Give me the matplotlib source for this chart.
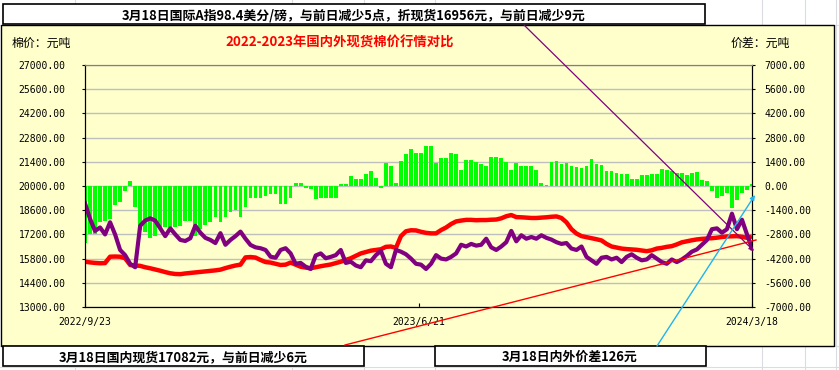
"""国内外现货棉价行情对比图"""

import numpy as np
import matplotlib.pyplot as plt
from matplotlib.patches import Rectangle

plt.rcParams['font.family'] = ['Noto Sans CJK SC', 'DejaVu Sans']

# 国内现货 (元/吨)
domestic = [
    15620, 15580, 15550, 15530, 15540, 15910, 15920, 15910, 15820, 15430,
    15400, 15380, 15300, 15240, 15170, 15100, 15020, 14950, 14910, 14900,
    14940, 14970, 15000, 15030, 15060, 15090, 15120, 15160, 15250, 15330,
    15400, 15450, 15870, 15890, 15860, 15720, 15600, 15570, 15500, 15430,
    15450, 15570, 15450, 15330, 15280, 15240, 15300, 15360, 15410, 15460,
    15540, 15620, 15720, 15820, 15960, 16100, 16180, 16260, 16300, 16340,
    16480, 16500, 16420, 17100, 17380, 17440, 17430, 17350, 17290, 17260,
    17260, 17450, 17600, 17800, 17950, 18000, 18040, 18040, 18020, 18030,
    18030, 18050, 18060, 18130, 18250, 18320, 18200, 18190, 18170, 18150,
    18150, 18170, 18190, 18220, 18240, 18150, 17900, 17500, 17250, 17100,
    17040, 16980, 16920, 16850, 16650, 16500, 16440, 16380, 16350, 16330,
    16310, 16270, 16230, 16280, 16380, 16420, 16480, 16520, 16620, 16740,
    16800, 16860, 16910, 16940, 16960, 16980, 17010, 17050, 17080, 17090,
    17100, 17060, 17000, 17082,
]

# 国际A指折现货 (元/吨)
international = [
    19000, 18100, 17400, 17600, 17200, 17900, 17200, 16300, 16000, 15500,
    15300, 17700, 18000, 18130, 18000, 17550, 17100, 17550, 17200, 16880,
    16820, 16980, 17700, 17300, 17000, 16880, 16700, 17270, 16600, 16880,
    17100, 17360, 16950, 16590, 16450, 16400, 16300, 15910, 15850, 16300,
    16400, 16100, 15500, 15550, 15330, 15200, 15980, 16100, 15820, 15900,
    16000, 16300, 15550, 15620, 15400, 15300, 15700, 15650, 16000, 16250,
    15500, 15300, 16300, 16200, 16050, 15800, 15500, 15450, 15200, 15500,
    16000, 15800, 15750, 15900, 16100, 16600, 16500, 16650, 16550, 16600,
    16950, 16450, 16300, 16500, 16750, 17400, 16800, 17150, 16950, 17050,
    16950, 17150, 17000, 16900, 16750, 16650, 16700, 16380, 16300, 16500,
    15900, 15700, 15500, 15850, 15900, 15750, 15850, 15600, 15900, 16050,
    15850, 15700, 15750, 16000, 15800, 15600, 15500, 15750, 15600, 15750,
    15950, 16200, 16330, 16600, 16870, 17500, 17550, 17300, 17500, 18400,
    17500, 18050, 17200, 16400,
]

# 内外价差 (元/吨)
spread = [
    -3300, -2800, -2800, -2100, -2000, -1900, -1100, -900, -300, 300,
    -1200, -2550, -2650, -3000, -2900, -2400, -2350, -2400, -2350, -2300,
    -2000, -2000, -2900, -2500, -2250, -2100, -1800, -2100, -1800, -1500,
    -1400, -1800, -1200, -675, -675, -675, -580, -450, -450, -1050,
    -1050, -700, 190, 190, -100, -150, -770, -700, -675, -675,
    -675, 100, 100, 580, 385, 385, 675, 870, 480, -100,
    1350, 1160, 200, 1450, 1830, 2120, 1930, 1930, 2300, 2320,
    1350, 1640, 1640, 1930, 1830, 950, 1500, 1500, 1400, 1300,
    1150, 1690, 1690, 1640, 1400, 950, 1350, 1160, 1160, 1150,
    950, 200, 50, 1400, 1440, 1300, 1350, 1150, 1100, 1050,
    1150, 1540, 1300, 1240, 850, 850, 760, 720, 700, 400,
    400, 660, 660, 720, 720, 990, 900, 850, 760, 760,
    660, 780, 820, 370, 300, -310, -700, -600, -410, -1280,
    -800, -410, -210, 126,
]

date_labels = ['2022/9/23', '2023/6/21', '2024/3/18']

title = '2022-2023年国内外现货棉价行情对比'
top_note = '3月18日国际A指98.4美分/磅，与前日减少5点，折现货16956元，与前日减少9元'
note_domestic = '3月18日国内现货17082元，与前日减少6元'
note_spread = '3月18日内外价差126元'

W, H = 839, 370
fig = plt.figure(figsize=(W / 100, H / 100), dpi=100)

# 背景：表格网格 + 图表区
bg = fig.add_axes([0, 0, 1, 1], zorder=0)
bg.set_xlim(0, W)
bg.set_ylim(H, 0)
bg.axis('off')
for gx in [75, 292, 364, 435, 762, 805, 836]:
    bg.plot([gx, gx], [0, H], color='#D9DCE0', lw=0.8, zorder=0.5)
for gy in [25, 346, 367]:
    bg.plot([0, W], [gy, gy], color='#D9DCE0', lw=0.8, zorder=0.5)
bg.add_patch(Rectangle((1, 25), 833, 321, fc='#FFFFCC', ec='black', lw=1.0,
                       zorder=1))

# 文本框
bg.add_patch(Rectangle((3, 4), 702, 20, fc='white', ec='black', lw=1.2, zorder=5))
bg.add_patch(Rectangle((3, 346), 361, 20, fc='white', ec='black', lw=1.2, zorder=5))
bg.add_patch(Rectangle((435, 346), 271, 20, fc='white', ec='black', lw=1.2, zorder=5))
bg.text(354, 15, top_note, ha='center', va='center', fontsize=9.3,
        fontweight='bold', zorder=6)
bg.text(183, 357, note_domestic, ha='center', va='center', fontsize=9.3,
        fontweight='bold', zorder=6)
bg.text(570, 357, note_spread, ha='center', va='center', fontsize=9.3,
        fontweight='bold', zorder=6)

bg.text(340, 43, title, ha='center', va='center', fontsize=9.6,
        fontweight='bold', color='#FF0000', zorder=6)
bg.text(12, 43, '棉价：元吨', ha='left', va='center', fontsize=8.6, zorder=6)
bg.text(731, 43, '价差：元吨', ha='left', va='center', fontsize=8.6, zorder=6)

# 绘图区
x = np.arange(len(domestic))
pos = [85 / W, (H - 307) / H, 667 / W, 242 / H]

ax = fig.add_axes(pos, zorder=1)
ax.set_facecolor('none')
ax.bar(x, spread, width=0.75, color='#00FF00', zorder=2)
ax.set_ylim(-7000, 7000)
ax.grid(axis='y', color='#BFBFBF', lw=1.0)
ax.set_axisbelow(True)
ax.set_xlim(0, len(x) - 1)
ax.set_xticks([0, (len(x) - 1) / 2, len(x) - 1])
ax.set_xticklabels(date_labels, family='DejaVu Sans Mono', fontsize=7)
ax.tick_params(axis='x', direction='in', length=3, pad=7)

ax2 = ax.twinx()
ax2.set_zorder(2)
ax2.patch.set_visible(False)
ax2.plot(x, domestic, color='#FF0000', lw=3.2, solid_capstyle='butt')
ax2.plot(x, international, color='#800080', lw=3.0)
ax2.set_ylim(13000, 27000)

# 左轴：棉价；右轴：价差
right_ticks = np.arange(-7000, 7001, 1400)
ax.yaxis.tick_right()
ax.yaxis.set_label_position('right')
ax.set_yticks(right_ticks)
ax.set_yticklabels([f'{v:.2f}' for v in right_ticks],
                   family='DejaVu Sans Mono', fontsize=7)
ax.tick_params(axis='y', length=2, pad=7)

left_ticks = np.arange(13000, 27001, 1400)
ax2.yaxis.tick_left()
ax2.yaxis.set_label_position('left')
ax2.set_yticks(left_ticks)
ax2.set_yticklabels([f'{v:.2f}' for v in left_ticks],
                    family='DejaVu Sans Mono', fontsize=7)
ax2.tick_params(axis='y', length=2, pad=12)

for a in (ax, ax2):
    a.spines['top'].set_color('#808080')
    for s in ('left', 'right', 'bottom'):
        a.spines[s].set_color('black')

# 连接线
ov = fig.add_axes([0, 0, 1, 1], zorder=3)
ov.set_xlim(0, W)
ov.set_ylim(H, 0)
ov.axis('off')
ov.annotate('', xy=(754, 251), xytext=(524, 25),
            arrowprops=dict(arrowstyle='-|>', color='#800080', lw=0.9,
                            mutation_scale=7, shrinkA=0, shrinkB=0))
ov.plot([345, 756], [345, 240], color='#FF0000', lw=1.0)
ov.annotate('', xy=(755, 195), xytext=(657, 346),
            arrowprops=dict(arrowstyle='-|>', color='#1EB4F0', lw=1.0,
                            mutation_scale=7, shrinkA=0, shrinkB=0))

fig.savefig('out.png', dpi=100)
